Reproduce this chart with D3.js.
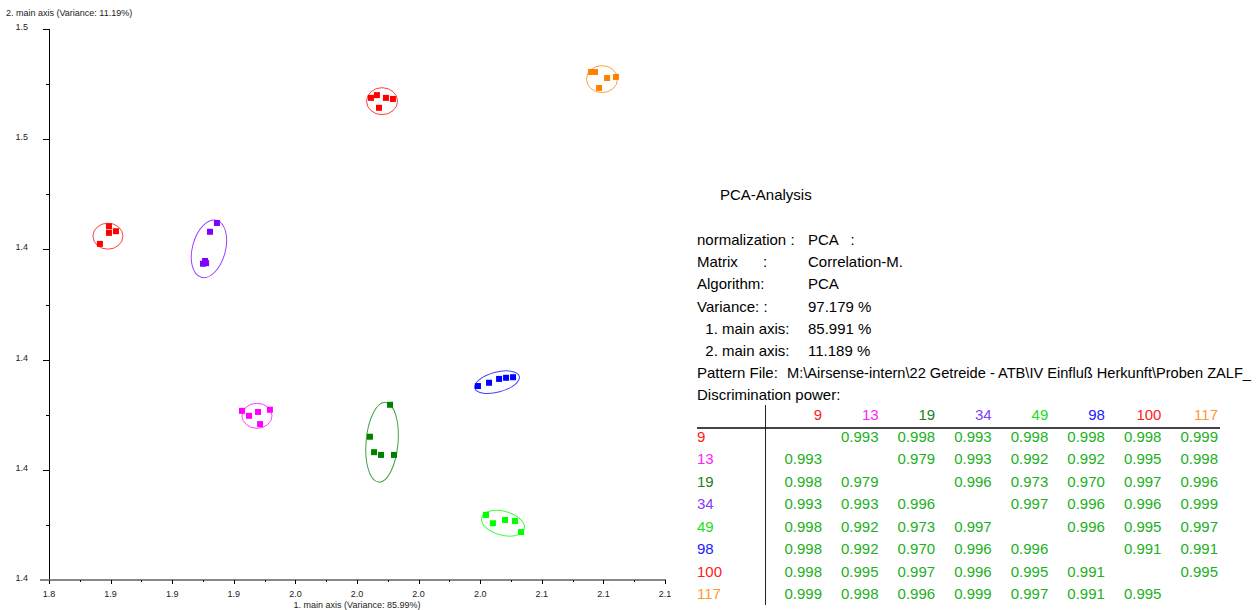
<!DOCTYPE html>
<html><head><meta charset="utf-8">
<script src="https://cdn.jsdelivr.net/npm/d3@7"></script>
<style>
html,body{margin:0;padding:0;background:#fff;}
svg{display:block;font-family:"Liberation Sans",Arial,sans-serif;}
</style></head>
<body><svg id="chart" width="1258" height="610"></svg>
<script>
// ---- data ----
const groups = ["9","13","19","34","49","98","100","117"];
const groupColors = ["#ff0000","#ff00ff","#008000","#8000ff","#00ff00","#0000ff","#ff0000","#ff8000"];
const pointsX = {
  "9":   [1.8592, 1.8592, 1.8626, 1.8548],
  "13":  [1.9240, 1.9274, 1.9318, 1.9376, 1.9328],
  "19":  [1.9961, 1.9863, 1.9883, 1.9917, 1.9980],
  "34":  [1.9118, 1.9084, 1.9060, 1.9050, 1.9065],
  "49":  [2.0428, 2.0462, 2.0521, 2.0569, 2.0599],
  "98":  [2.0389, 2.0443, 2.0492, 2.0526, 2.0560],
  "100": [1.9868, 1.9897, 1.9941, 1.9975, 1.9907],
  "117": [2.0940, 2.0959, 2.1018, 2.1061, 2.0979]
};
const pointsY = {
  "9":   [1.4342, 1.4330, 1.4333, 1.4310],
  "13":  [1.4007, 1.3998, 1.4005, 1.4009, 1.3983],
  "19":  [1.4018, 1.3960, 1.3932, 1.3927, 1.3927],
  "34":  [1.4348, 1.4332, 1.4279, 1.4274, 1.4275],
  "49":  [1.3818, 1.3803, 1.3809, 1.3807, 1.3787],
  "98":  [1.4052, 1.4058, 1.4065, 1.4067, 1.4068],
  "100": [1.4575, 1.4580, 1.4575, 1.4573, 1.4557],
  "117": [1.4622, 1.4622, 1.4611, 1.4613, 1.4593]
};
// confidence ellipses: centre, semi-axes (data units), tilt (deg)
const ellCX = [1.8587, 1.9313, 1.9922, 1.9079, 2.0511, 2.0482, 1.9922, 2.0993];
const ellCY = [1.4324, 1.3998, 1.3950, 1.4301, 1.3803, 1.4059, 1.4569, 1.4609];
const ellRX = [0.00731, 0.00731, 0.00779, 0.00804, 0.01071, 0.01120, 0.00755, 0.00755];
const ellRY = [0.00236, 0.00227, 0.00726, 0.00535, 0.00218, 0.00181, 0.00245, 0.00245];
const ellAngle = [0, 0, 5, 15, 15, -15, 0, 0];

const xTicks = [1.83,1.86,1.89,1.92,1.95,1.98,2.01,2.04,2.07,2.10,2.13];
const xTickLabels = ["1.8","1.9","1.9","1.9","2.0","2.0","2.0","2.0","2.1","2.1","2.1"];
const yTicks = [1.37,1.39,1.41,1.43,1.45,1.47];
const yTickLabels = ["1.4","1.4","1.4","1.4","1.5","1.5"];
const xTitle = "1. main axis (Variance: 85.99%)";
const yTitle = "2. main axis (Variance: 11.19%)";

const infoTitle = "PCA-Analysis";
const infoLabels = ["normalization :","Matrix","Algorithm:","Variance: :","  1. main axis:","  2. main axis:"];
const infoValues = ["PCA   :","Correlation-M.","PCA","97.179 %","85.991 %","11.189 %"];
const patternLabel = "Pattern File:";
const patternPath = "M:\\Airsense-intern\\22 Getreide - ATB\\IV Einfluß Herkunft\\Proben ZALF_";
const discTitle = "Discrimination power:";
const discMatrix = [
  [null, 0.993, 0.998, 0.993, 0.998, 0.998, 0.998, 0.999],
  [0.993, null, 0.979, 0.993, 0.992, 0.992, 0.995, 0.998],
  [0.998, 0.979, null, 0.996, 0.973, 0.970, 0.997, 0.996],
  [0.993, 0.993, 0.996, null, 0.997, 0.996, 0.996, 0.999],
  [0.998, 0.992, 0.973, 0.997, null, 0.996, 0.995, 0.997],
  [0.998, 0.992, 0.970, 0.996, 0.996, null, 0.991, 0.991],
  [0.998, 0.995, 0.997, 0.996, 0.995, 0.991, null, 0.995],
  [0.999, 0.998, 0.996, 0.999, 0.997, 0.991, 0.995, null]
];
const tableHeaderColors = ["#ff2020","#ff20ff","#208020","#8040ff","#20e020","#2020ff","#ff2020","#ff9933"];
const valueColor = "#22b022";

// ---- drawing ----
const svg = d3.select("#chart");
const x = d3.scaleLinear().domain([1.83, 2.13]).range([49, 665]);
const y = d3.scaleLinear().domain([1.37, 1.47]).range([580, 29]);
const x0 = x(1.83);

// y axis
const gy = svg.append("g");
gy.append("line").attr("x1", x0 + 0.5).attr("x2", x0 + 0.5).attr("y1", y(1.47)).attr("y2", y(1.37))
  .attr("stroke", "#000").attr("stroke-width", 1);
yTicks.forEach((t, i) => {
  gy.append("line").attr("x1", x0 - 6).attr("x2", x0).attr("y1", Math.round(y(t)) + 0.5).attr("y2", Math.round(y(t)) + 0.5)
    .attr("stroke", "#000");
  if (i < yTicks.length - 1) {
    const m = (t + yTicks[i + 1]) / 2;
    gy.append("line").attr("x1", x0 - 3).attr("x2", x0).attr("y1", Math.round(y(m)) + 0.5).attr("y2", Math.round(y(m)) + 0.5)
      .attr("stroke", "#000");
  }
  gy.append("text").attr("x", 28).attr("y", y(t) + 1).attr("text-anchor", "end")
    .attr("font-size", 9).attr("fill", "#222").text(yTickLabels[i]);
});
svg.append("text").attr("x", 6).attr("y", 16).attr("font-size", 9).attr("fill", "#222").text(yTitle);

// x axis
const gx = svg.append("g");
gx.append("line").attr("x1", 40).attr("x2", x(2.13) + 1).attr("y1", y(1.37)).attr("y2", y(1.37))
  .attr("stroke", "#888").attr("stroke-width", 2);
xTicks.forEach((t, i) => {
  gx.append("line").attr("x1", Math.round(x(t)) + 0.5).attr("x2", Math.round(x(t)) + 0.5).attr("y1", y(1.37)).attr("y2", y(1.37) + 4)
    .attr("stroke", "#000");
  if (i < xTicks.length - 1) {
    const m = (t + xTicks[i + 1]) / 2;
    gx.append("line").attr("x1", Math.round(x(m)) + 0.5).attr("x2", Math.round(x(m)) + 0.5).attr("y1", y(1.37)).attr("y2", y(1.37) + 2)
      .attr("stroke", "#000");
  }
  gx.append("text").attr("x", x(t)).attr("y", 597).attr("text-anchor", "middle")
    .attr("font-size", 9).attr("fill", "#222").text(xTickLabels[i]);
});
svg.append("text").attr("x", 357).attr("y", 608).attr("text-anchor", "middle").attr("font-size", 9).attr("fill", "#222").text(xTitle);

// ellipses
groups.forEach((g, i) => {
  const cx = x(ellCX[i]), cy = y(ellCY[i]);
  const rx = Math.abs(x(ellCX[i] + ellRX[i]) - cx);
  const ry = Math.abs(y(ellCY[i] + ellRY[i]) - cy);
  svg.append("ellipse").attr("transform", `translate(${cx},${cy}) rotate(${ellAngle[i]})`)
    .attr("rx", rx).attr("ry", ry).attr("fill", "none")
    .attr("stroke", groupColors[i]).attr("stroke-width", 1).attr("stroke-opacity", 0.75);
});
// points
groups.forEach((g, i) => {
  const pts = pointsX[g].map((v, k) => [v, pointsY[g][k]]);
  svg.append("g").selectAll("rect").data(pts).join("rect")
    .attr("x", d => x(d[0]) - 3).attr("y", d => y(d[1]) - 3)
    .attr("width", 6).attr("height", 6).attr("fill", groupColors[i]);
});

// info panel
const fs = 15;
const info = svg.append("g").attr("font-size", fs).attr("fill", "#000");
info.append("text").attr("x", 720).attr("y", 200).text(infoTitle);
const lineY0 = 245, lineStep = 22.2;
infoLabels.forEach((l, i) => {
  info.append("text").attr("x", 697).attr("y", lineY0 + i * lineStep).style("white-space", "pre").text(l);
  info.append("text").attr("x", 808).attr("y", lineY0 + i * lineStep).style("white-space", "pre").text(infoValues[i]);
});
info.append("text").attr("x", 763).attr("y", lineY0 + lineStep).text(":");
info.append("text").attr("x", 697).attr("y", lineY0 + 6 * lineStep).text(patternLabel);
info.append("text").attr("x", 787).attr("y", lineY0 + 6 * lineStep).attr("font-size", 14)
  .attr("textLength", 464).attr("lengthAdjust", "spacingAndGlyphs").text(patternPath);
info.append("text").attr("x", 697).attr("y", lineY0 + 7 * lineStep).text(discTitle);

// discrimination table
const colRight = d3.scaleLinear().domain([0, 7]).range([822, 1218]);
const rowY = d3.scaleLinear().domain([0, 7]).range([442, 599]);
const headerY = 420;
const tbl = svg.append("g").attr("font-size", fs);
groups.forEach((g, j) => {
  tbl.append("text").attr("x", colRight(j)).attr("y", headerY).attr("text-anchor", "end")
    .attr("fill", tableHeaderColors[j]).text(g);
  tbl.append("text").attr("x", 697).attr("y", rowY(j)).attr("fill", tableHeaderColors[j]).text(g);
});
tbl.append("line").attr("x1", 697).attr("x2", 1220).attr("y1", 428).attr("y2", 428).attr("stroke", "#444").attr("stroke-width", 2);
tbl.append("line").attr("x1", 765.5).attr("x2", 765.5).attr("y1", 405).attr("y2", 605).attr("stroke", "#222").attr("stroke-width", 1);
discMatrix.forEach((row, i) => {
  row.forEach((v, j) => {
    if (v === null) return;
    tbl.append("text").attr("x", colRight(j)).attr("y", rowY(i)).attr("text-anchor", "end")
      .attr("fill", valueColor).text(v.toFixed(3));
  });
});
</script></body></html>
